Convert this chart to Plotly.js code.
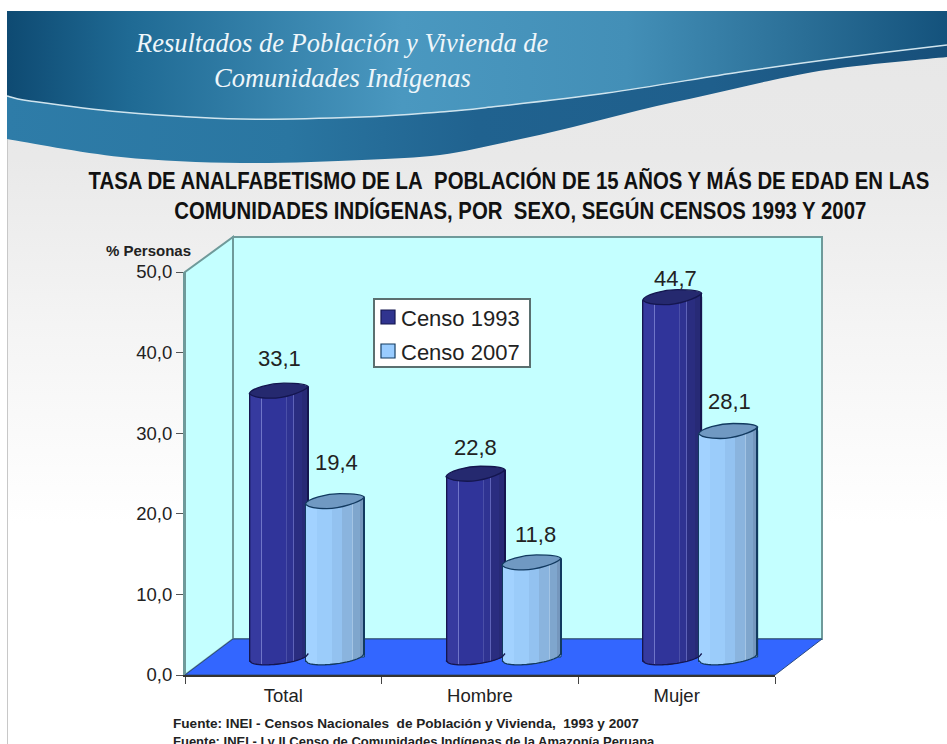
<!DOCTYPE html>
<html><head><meta charset="utf-8">
<script src="https://cdn.plot.ly/plotly-3.0.1.min.js"></script>
<style>html,body{margin:0;padding:0;background:#fff;overflow:hidden}
#bg{position:absolute;left:0;top:0}#chart{position:absolute;left:0;top:0;width:947px;height:744px}</style>
</head><body>
<svg id="bg" width="947" height="744" viewBox="0 0 947 744">
<defs>
<linearGradient id="page" x1="0" y1="0" x2="0" y2="1"><stop offset="0" stop-color="#e7e7e7"/><stop offset=".2" stop-color="#e9e9e9"/><stop offset=".45" stop-color="#f5f5f5"/><stop offset=".7" stop-color="#ffffff"/><stop offset="1" stop-color="#ffffff"/></linearGradient>
<linearGradient id="top" x1="0" y1="0" x2="1" y2="0"><stop offset="0" stop-color="#0e4a72"/><stop offset=".13" stop-color="#1f6a94"/><stop offset=".42" stop-color="#4a98c0"/><stop offset=".66" stop-color="#438fb7"/><stop offset=".85" stop-color="#2a6e96"/><stop offset="1" stop-color="#14527c"/></linearGradient>
<linearGradient id="band" x1="0" y1="0" x2="1" y2="0"><stop offset="0" stop-color="#2e7ca8"/><stop offset=".3" stop-color="#2a76a1"/><stop offset=".5" stop-color="#20628f"/><stop offset=".75" stop-color="#1f5f8c"/><stop offset="1" stop-color="#174f7a"/></linearGradient>
</defs>
<rect x="7" y="11" width="940" height="733" fill="url(#page)"/>
<rect x="7" y="11" width="1" height="733" fill="#c8c8c8"/>
<path id="bandPath" fill="url(#band)"/>
<path id="topPath" fill="url(#top)"/>
<path id="linePath" fill="none" stroke="#cfe4ee" stroke-width="1.5"/>
</svg>
<div id="chart"></div>
<script>
// ---- chart data ----
const categories = ['Total', 'Hombre', 'Mujer'];
const censo1993 = [33.1, 22.8, 44.7];
const censo2007 = [19.4, 11.8, 28.1];
const seriesNames = ['Censo 1993', 'Censo 2007'];
const yTicks = [0, 10, 20, 30, 40, 50];
const labelLift = [[32, 26, 18], [38, 27, 29]];
const labelNudge = [[1, 0, 3], [2, 4, 1]];

// ---- banner decoration outline ----
const wave = [[7,96],[30,101],[121,112],[241,119],[362,117],[440,112],[483,108],[607,93],[740,72],[840,58],[947,45]];
const waveLow = [[7,139],[121,157],[241,163],[362,160],[440,155],[507,142],[573,127],[640,110],[707,95],[773,80],[840,68],[947,57]];
const smooth = pts => {
  let d = '';
  for (let i = 0; i < pts.length - 1; i++) {
    const a = pts[Math.max(i - 1, 0)], b = pts[i], c = pts[i + 1], e = pts[Math.min(i + 2, pts.length - 1)];
    d += ` C${b[0] + (c[0] - a[0]) / 6},${b[1] + (c[1] - a[1]) / 6} ${c[0] - (e[0] - b[0]) / 6},${c[1] - (e[1] - b[1]) / 6} ${c[0]},${c[1]}`;
  }
  return d;
};
const lowRev = waveLow.slice().reverse();
document.getElementById('topPath').setAttribute('d', `M7,11 H947 V45 L947,45 ${smooth(wave.slice().reverse())} Z`);
document.getElementById('bandPath').setAttribute('d', `M7,96 ${smooth(wave)} L947,57 ${smooth(lowRev)} Z`);
document.getElementById('linePath').setAttribute('d', `M7,96 ${smooth(wave)}`);

// ---- frame geometry (pixels of the 947x744 page) ----
const L = 185, R = 822, T = 237, B = 675, W = R - L, H = B - T;
const pxPerUnit = 403 / 50, pxPerCat = 590 / 3;
const dx = 24, dy = 18;
const px = x => (x - L) / W, py = y => (B - y) / H;
const poly = pts => 'M' + pts.map(p => px(p[0]).toFixed(5) + ',' + py(p[1]).toFixed(5)).join('L') + 'Z';

const barW = 59;
const starts = [-58, -2];
const styles = [
  {main:'#30348f', edge:'#14164f', cap:'#25296f',
   shade:t => t<.04?'#2a2d85': t<.2?'#363a9f': t<.225?'#6f75c8': t<.62?'#30349a': t<.64?'#4a4fa8': t<.74?'#2f3392': t<.76?'#5e63b8': t<.9?'#2a2d80':'#272a76'},
  {main:'#99ccff', edge:'#123a60', cap:'#7099c2',
   shade:t => t<.2?'#a2d2ff': t<.45?'#9bccfa': t<.62?'#93c2f0': t<.8?'#8ab4de': t<.82?'#a3c4e4': t<.93?'#7fa6cd':'#7597bd'}
];
const tiltPx = t => 3.5 * (1 - 2 * t);
const basePx = t => tiltPx(t) + 7 * Math.sqrt(Math.max(0, 1 - (2 * t - 1) * (2 * t - 1)));

const traces = [];
traces.push({type:'scatter', mode:'none', x:categories, y:[0,0,0], xaxis:'x', yaxis:'y', showlegend:false, hoverinfo:'skip'});
const shapes = [
  {type:'path', layer:'below', xref:'paper', yref:'paper', path:poly([[185,675],[185,272],[233,237],[233,639]]), fillcolor:'#c4ffff', line:{color:'#6f9a9a', width:2}},
  {type:'path', layer:'below', xref:'paper', yref:'paper', path:poly([[233,237],[822,237],[822,639],[233,639]]), fillcolor:'#c4ffff', line:{color:'#6f9a9a', width:2}},
  {type:'path', layer:'below', xref:'paper', yref:'paper', path:poly([[185,675],[775,675],[822,639],[233,639]]), fillcolor:'#3366ff', line:{color:'#2a4a80', width:1}}
];
const annotations = [];

[censo1993, censo2007].forEach((vals, s) => {
  const st = styles[s], x0 = starts[s];
  traces.push({type:'bar', name:seriesNames[s], legendgroup:seriesNames[s], x:categories, y:vals,
    xaxis:'x2', yaxis:'y2', width:(barW - 15) / pxPerCat, offset:(x0 + 15) / pxPerCat,
    marker:{color:st.main, line:{color:st.edge, width:1}}, hoverinfo:'skip'});
  for (let i = 0; i < barW; i++) {
    const t = (i + .5) / barW, edge = i === 0 || i === barW - 1;
    const base = vals.map(() => -basePx(t) / pxPerUnit);
    const top = vals.map(v => v - tiltPx(t) / pxPerUnit);
    traces.push({type:'bar', x:categories, y:top.map((v, k) => v - base[k]), base:base,
      xaxis:'x2', yaxis:'y2', width:1.2 / pxPerCat, offset:(x0 + i) / pxPerCat,
      marker:{color:edge ? st.edge : st.shade(t), line:{width:0}}, showlegend:false, hoverinfo:'skip'});
  }
  vals.forEach((v, c) => {
    const X = p => (c + (x0 + barW / 2 + p) / pxPerCat).toFixed(4);
    const Y = p => (v - p / pxPerUnit).toFixed(4);
    const P = (a, b) => X(a) + ',' + Y(b);
    shapes.push({type:'path', layer:'above', xref:'x2', yref:'y2', fillcolor:st.cap, line:{color:st.edge, width:1.3},
      path:`M${P(-29.5,3.5)} C${P(-25,7.5)} ${P(-15,8)} ${P(-8,8)} C${P(5,8)} ${P(25,2)} ${P(29.5,-3.5)} C${P(28,-6)} ${P(15,-7)} ${P(5,-7)} C${P(-8,-7)} ${P(-28,-2)} ${P(-29.5,3.5)} Z`});
    let bottom = '';
    for (let k = 0; k <= 24; k++) {
      const t = k / 24;
      bottom += (k ? 'L' : 'M') + (c + (x0 + t * barW) / pxPerCat).toFixed(4) + ',' + (-basePx(t) / pxPerUnit).toFixed(4);
    }
    shapes.push({type:'path', layer:'above', xref:'x2', yref:'y2', line:{color:st.edge, width:1.3}, path:bottom});
    annotations.push({xref:'x2', yref:'y2', x:c + (x0 + barW / 2 + labelNudge[s][c]) / pxPerCat, y:v, yshift:labelLift[s][c],
      text:v.toFixed(1).replace('.', ','), showarrow:false, font:{family:'Liberation Sans', size:22, color:'#222'}});
  });
});

const pageNote = (text, x, y, size, color, anchor, family) => ({xref:'paper', yref:'paper', x:px(x), y:py(y), xanchor:anchor, yanchor:'middle',
  text, showarrow:false, font:{family:family || 'Liberation Sans', size, color}});
annotations.push(
  pageNote('<i>Resultados de Población y Vivienda de</i>', 342, 43, 26.5, '#eef6fa', 'center', 'Liberation Serif'),
  pageNote('<i>Comunidades Indígenas</i>', 342, 78, 26.5, '#eef6fa', 'center', 'Liberation Serif'),
  pageNote('<b>% Personas</b>', 104, 250, 15, '#222', 'left'),
  pageNote('<b>Fuente: INEI - Censos Nacionales\u00a0 de Población y Vivienda,\u00a0 1993 y 2007</b>', 171, 723, 13.6, '#222', 'left'),
  pageNote('<b>Fuente: INEI - I y II Censo de Comunidades Indígenas de la Amazonía Peruana</b>', 171, 741, 13, '#222', 'left')
);

const layout = {
  width:947, height:744, autosize:false, showlegend:true, barmode:'overlay', separators:',.',
  paper_bgcolor:'rgba(0,0,0,0)', plot_bgcolor:'rgba(0,0,0,0)',
  margin:{l:L, r:947 - R, t:T, b:744 - B, pad:0},
  title:{text:'<b>TASA DE ANALFABETISMO DE LA\u00a0 POBLACIÓN DE 15 AÑOS Y MÁS DE EDAD EN LAS<br>\u00a0\u00a0\u00a0\u00a0COMUNIDADES INDÍGENAS, POR\u00a0 SEXO, SEGÚN CENSOS 1993 Y 2007</b>',
    x:514 / 947, xanchor:'center', xref:'container', y:1 - 189 / 744, yanchor:'top', font:{family:'Liberation Sans', size:23, color:'#111'}},
  font:{family:'Liberation Sans', color:'#222'},
  xaxis:{type:'category', categoryorder:'array', categoryarray:categories, domain:[0, 590 / W], range:[-.5, 2.5], anchor:'y',
    tickson:'boundaries', ticks:'outside', ticklen:7, tickcolor:'#444', showline:true, linecolor:'#333', linewidth:2, showgrid:false, zeroline:false,
    tickfont:{size:18.5, color:'#222'}, ticklabelstandoff:3, fixedrange:true},
  yaxis:{domain:[0, 403 / H], range:[0, 50], tickvals:yTicks, tickformat:'.1f', anchor:'x', ticks:'outside', ticklen:7, tickcolor:'#555',
    showline:true, linecolor:'#6f9a9a', linewidth:2, showgrid:false, zeroline:false, tickfont:{size:18.5, color:'#222'}, fixedrange:true},
  xaxis2:{type:'category', categoryorder:'array', categoryarray:categories, domain:[0, 1], anchor:'y2', visible:false,
    range:[-.5 - dx / pxPerCat, -.5 - dx / pxPerCat + W / pxPerCat], fixedrange:true},
  yaxis2:{domain:[0, 1], anchor:'x2', visible:false, range:[-dy / pxPerUnit, (H - dy) / pxPerUnit], fixedrange:true},
  legend:{x:px(373), y:py(298), xanchor:'left', yanchor:'top', bgcolor:'#ffffff', bordercolor:'#5a7070', borderwidth:1.5,
    font:{family:'Liberation Sans', size:22, color:'#222'}, traceorder:'grouped', tracegroupgap:4},
  shapes, annotations
};
Plotly.newPlot('chart', traces, layout, {displayModeBar:false}).then(() => {
  // tighten the legend box to the reference's proportions
  const lg = document.querySelector('.legend');
  if (lg) {
    const bg = lg.querySelector('rect.bg');
    if (bg) { bg.setAttribute('width', 156); bg.setAttribute('height', 68); }
    const sb = lg.querySelector('.scrollbox');
    if (sb) sb.removeAttribute('clip-path');
    lg.querySelectorAll('.groups').forEach(g => g.setAttribute('transform', 'translate(0,0)'));
    lg.querySelectorAll('.traces').forEach((g, i) => {
      g.setAttribute('transform', `translate(0,${19 + 34 * i})`);
      const tx = g.querySelector('text.legendtext');
      if (tx) tx.setAttribute('x', 28);
      g.querySelectorAll('.legendpoints path').forEach(p => p.setAttribute('transform', 'translate(15,0) scale(1.17)'));
    });
  }
  // the reference's headline is set in a condensed cut: narrow it to the same width
  const ti = document.querySelector('.gtitle');
  if (ti) ti.setAttribute('transform', 'translate(509,0) scale(0.886,1) translate(-514,0)');
});
</script>
</body></html>
